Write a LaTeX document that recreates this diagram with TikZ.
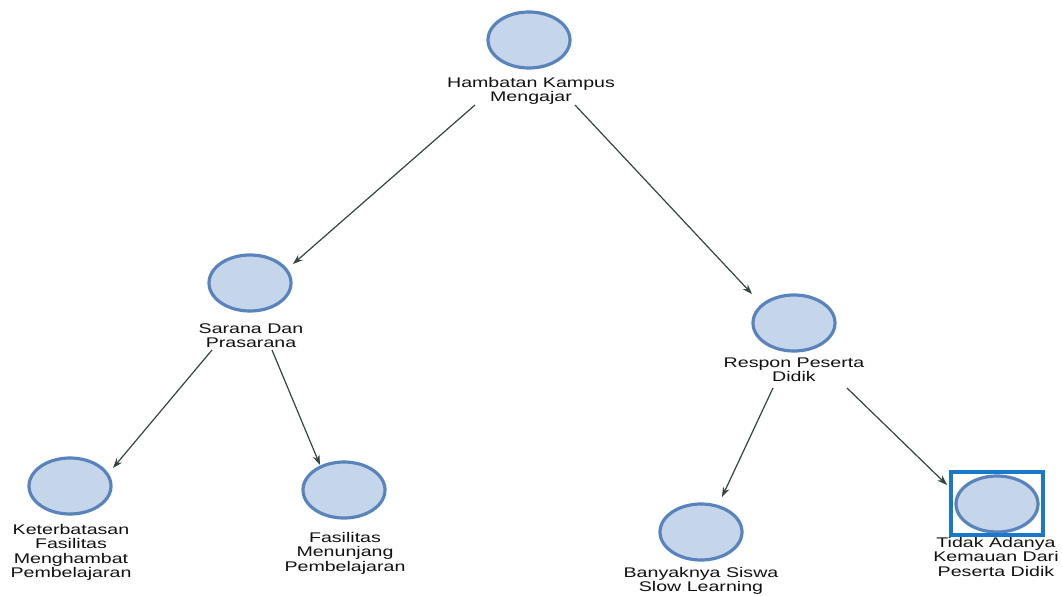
\documentclass[tikz,border=0pt]{standalone}
\usepackage{fontspec}
\usepackage{graphicx}
\setmainfont{Liberation Sans}
\usetikzlibrary{arrows.meta,shapes.geometric}
\definecolor{nodefill}{HTML}{C6D6EA}
\definecolor{nodeline}{HTML}{5883BC}
\definecolor{arrowcol}{HTML}{36443F}
\definecolor{txtcol}{HTML}{111111}
\definecolor{selcol}{HTML}{1B78C8}
\newcommand\mylab[1]{\scalebox{1.4}[1]{\begin{tabular}{@{}c@{}}#1\end{tabular}}}
\begin{document}
\begin{tikzpicture}[x=1pt,y=-1pt,
  bubble/.style={ellipse,draw=nodeline,fill=nodefill,line width=3.2pt,minimum width=82pt,minimum height=56pt,inner sep=0pt},
  lbl/.style={anchor=north,inner sep=0pt,text=txtcol,font=\fontsize{14}{14.5}\selectfont},
  arr/.style={draw=arrowcol,line width=1.2pt,-{Stealth[length=10pt,width=7pt]}},
  selbox/.style={draw=selcol,line width=4pt,minimum width=92pt,minimum height=63pt,inner sep=0pt}]
\useasboundingbox[fill=white] (0,0) rectangle (1062,596);
% nodes
\node[bubble] (A) at (529,40) {};
\node[lbl] (lA) at (531,77) {\mylab{Hambatan Kampus\\Mengajar}};
\node[bubble] (B) at (250,283) {};
\node[lbl] (lB) at (251,323) {\mylab{Sarana Dan\\Prasarana}};
\node[bubble] (C) at (794,323) {};
\node[lbl] (lC) at (794,357) {\mylab{Respon Peserta\\Didik}};
\node[bubble] (D) at (70,486) {};
\node[lbl] (lD) at (71,524) {\mylab{Keterbatasan\\Fasilitas\\Menghambat\\Pembelajaran}};
\node[bubble] (E) at (344,490) {};
\node[lbl] (lE) at (345,532) {\mylab{Fasilitas\\Menunjang\\Pembelajaran}};
\node[bubble] (F) at (701,532) {};
\node[lbl] (lF) at (701,567) {\mylab{Banyaknya Siswa\\Slow Learning}};
\node[bubble] (G) at (997,504) {};
\node[lbl] (lG) at (996,537) {\mylab{Tidak Adanya\\Kemauan Dari\\Peserta Didik}};
\node[selbox] (Gsel) at (997,503.5) {};
% connectors
\draw[arr] ([shift={(-54,65)}]A.center) -- ([shift={(43,-19)}]B.center);
\draw[arr] ([shift={(46,65)}]A.center) -- ([shift={(-42,-29)}]C.center);
\draw[arr] ([shift={(-38,67)}]B.center) -- ([shift={(43,-18)}]D.center);
\draw[arr] ([shift={(22,67)}]B.center) -- ([shift={(-24,-25)}]E.center);
\draw[arr] ([shift={(-21,65)}]C.center) -- ([shift={(21,-35)}]F.center);
\draw[arr] ([shift={(53,65)}]C.center) -- ([shift={(-50,-19)}]G.center);
\end{tikzpicture}
\end{document}
